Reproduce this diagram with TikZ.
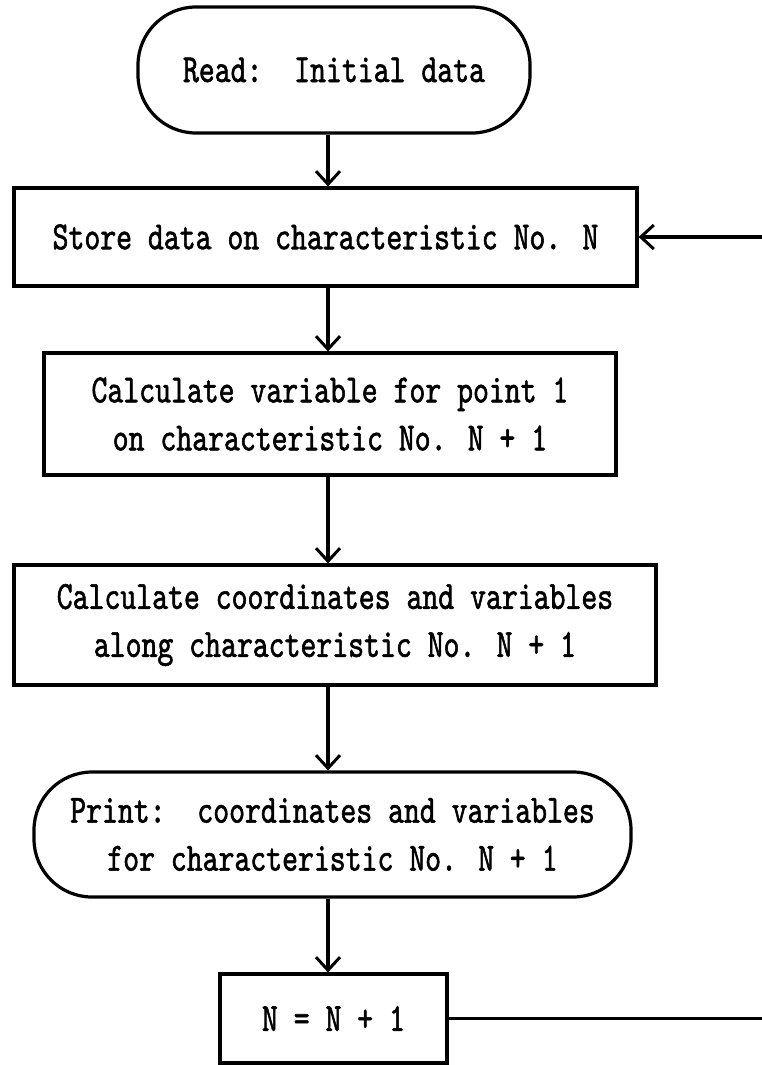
\documentclass[tikz,border=0pt]{standalone}
\usepackage{fontspec}
\usepackage{tikz}
\usetikzlibrary{positioning}
\usetikzlibrary{arrows.meta}
\newfontfamily\typer[FakeStretch=0.757,FakeBold=1.4]{lmmono10-regular.otf}

\begin{document}
\begin{tikzpicture}[
    x=1pt,y=-1pt,
    every node/.style={draw,line width=3.2pt,inner sep=0pt,align=center,
      font=\typer\fontsize{40}{48}\selectfont},
    stepbox/.style={rectangle},
    term/.style={rectangle,rounded corners=58pt},
    flow/.style={line width=3.2pt,-{Straight Barb[length=13pt,width=24pt,line width=3pt]}}
    ]
    \useasboundingbox (0,0) rectangle (762,1065);
    \clip (0,0) rectangle (762,1065);
    % spine of the flow and the return path
    \coordinate (spine) at (328,0);
    \coordinate (loop) at (800,0);
    % 1) read
    \node[term,minimum width=392pt,minimum height=126pt] (start) at (334,70)
      {Read:\ \ Initial data};
    % 2) store
    \node[stepbox,minimum width=623pt,minimum height=98pt] (store) at (325.5,237)
      {Store data on characteristic No. N};
    % 3) point 1
    \node[stepbox,minimum width=572pt,minimum height=122pt] (varpt) at (330,414)
      {Calculate variable for point 1\\on characteristic No. N + 1};
    % 4) along
    \node[stepbox,minimum width=642pt,minimum height=120pt] (coords) at (335,625)
      {Calculate coordinates and variables\\along characteristic No. N + 1};
    % 5) print
    \node[term,minimum width=597pt,minimum height=125pt] (print) at (332.5,834.5)
      {Print:\ \ coordinates and variables\\for characteristic No. N + 1};
    % 6) next
    \node[stepbox,minimum width=227pt,minimum height=89pt] (incr) at (333.5,1018.5)
      {N = N + 1};
    \draw[flow] (start.south -| spine) -- (store.north -| spine);
    \draw[flow] (store.south -| spine) -- (varpt.north -| spine);
    \draw[flow] (varpt.south -| spine) -- (coords.north -| spine);
    \draw[flow] (coords.south -| spine) -- (print.north -| spine);
    \draw[flow] (print.south -| spine) -- (incr.north -| spine);
    \draw[flow] (incr.east) -- (incr.east -| loop) |- (store.east);
  \end{tikzpicture}
\end{document}
